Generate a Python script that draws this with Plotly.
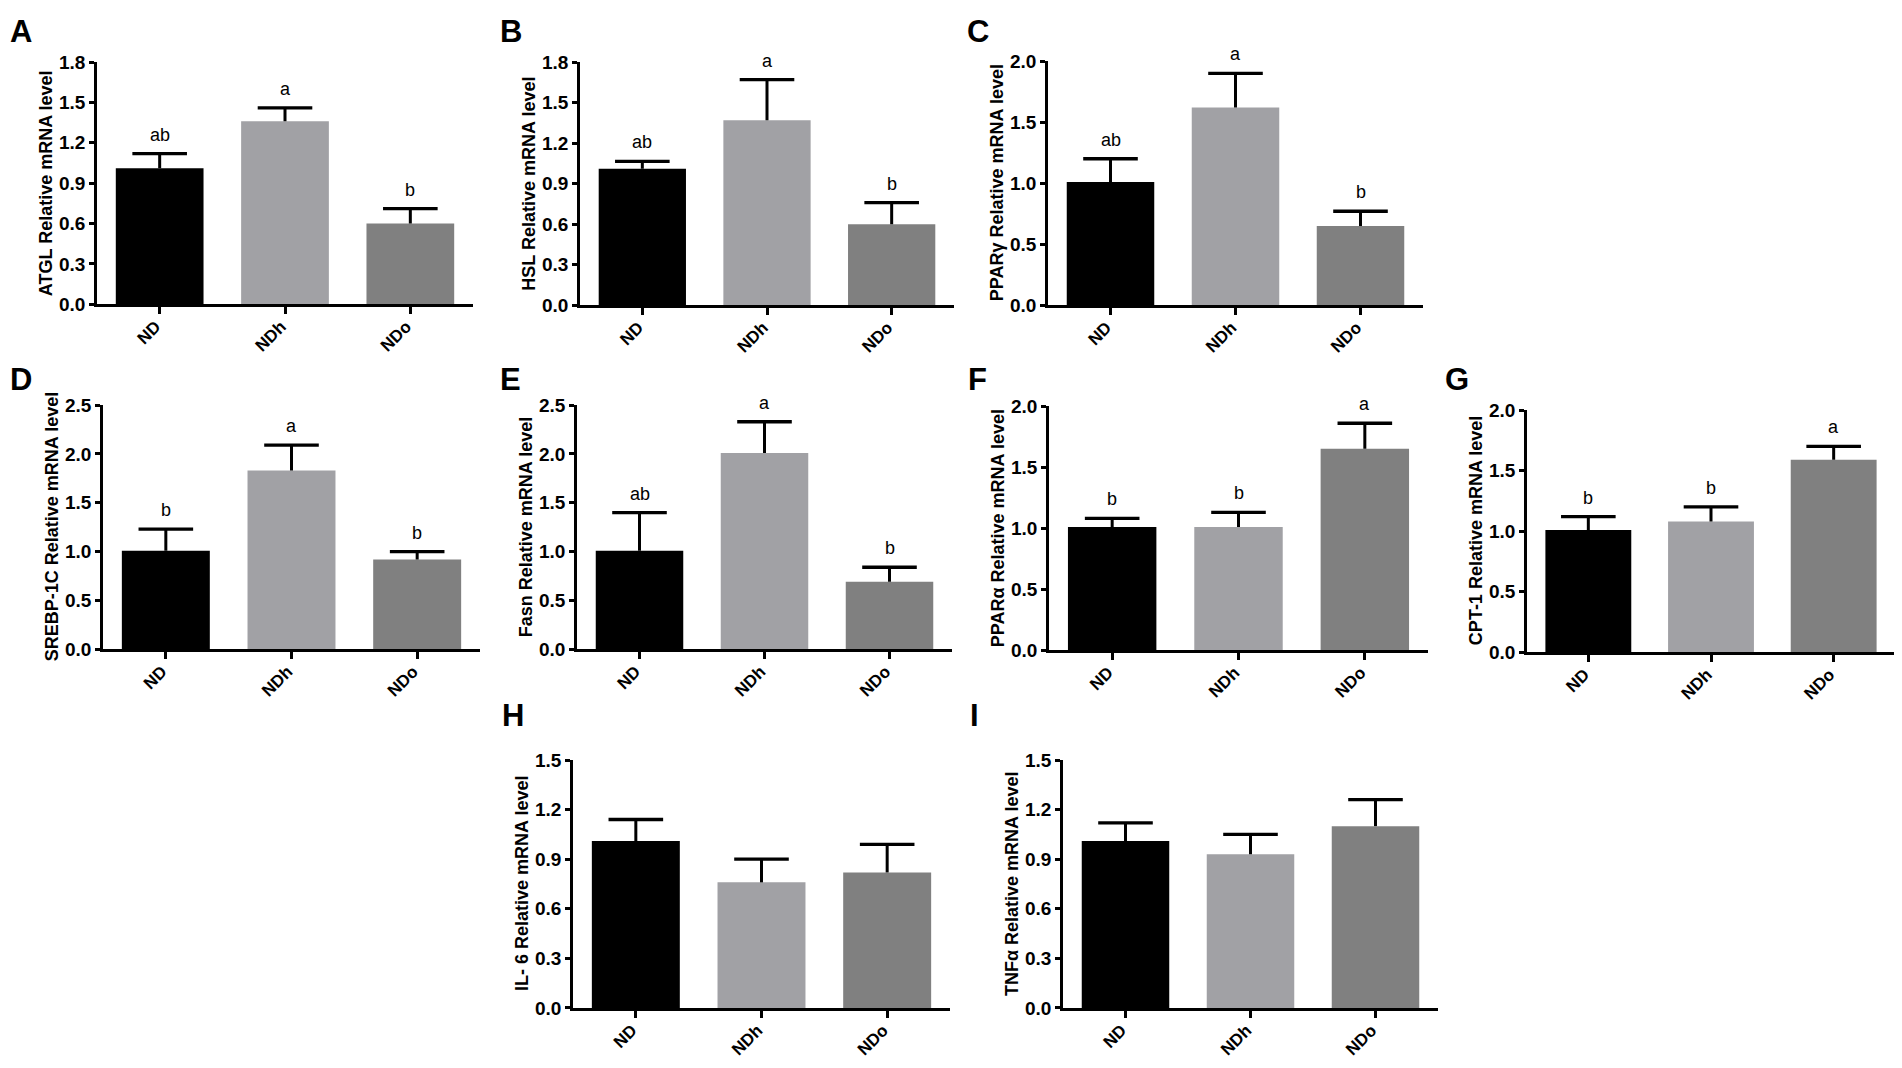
import plotly.graph_objects as go

# the page body has an 8px margin, so the figure is drawn 8px in from the window corner
W, H = 1894, 1060
OFF = 8

groups = ["ND", "NDh", "NDo"]
bar_colors = ["#000000", "#a1a1a5", "#808080"]

atgl_mean = [1.01, 1.36, 0.60]
atgl_sem = [0.11, 0.10, 0.11]
atgl_sig = ["ab", "a", "b"]

hsl_mean = [1.01, 1.37, 0.60]
hsl_sem = [0.055, 0.30, 0.16]
hsl_sig = ["ab", "a", "b"]

pparg_mean = [1.01, 1.62, 0.65]
pparg_sem = [0.19, 0.28, 0.12]
pparg_sig = ["ab", "a", "b"]

srebp_mean = [1.01, 1.83, 0.92]
srebp_sem = [0.22, 0.26, 0.08]
srebp_sig = ["b", "a", "b"]

fasn_mean = [1.01, 2.01, 0.69]
fasn_sem = [0.39, 0.32, 0.15]
fasn_sig = ["ab", "a", "b"]

ppara_mean = [1.01, 1.01, 1.65]
ppara_sem = [0.07, 0.12, 0.21]
ppara_sig = ["b", "b", "a"]

cpt1_mean = [1.01, 1.08, 1.59]
cpt1_sem = [0.11, 0.12, 0.11]
cpt1_sig = ["b", "b", "a"]

il6_mean = [1.01, 0.76, 0.82]
il6_sem = [0.13, 0.14, 0.17]

tnfa_mean = [1.01, 0.93, 1.10]
tnfa_sem = [0.11, 0.12, 0.16]

# panel letter, y title, data, y max, tick step, and window-pixel box (left, right, top, bottom)
panels = [
    ("A", "ATGL Relative mRNA level", atgl_mean, atgl_sem, atgl_sig, 1.8, 0.3, (97, 473, 53, 300)),
    ("B", "HSL Relative mRNA level", hsl_mean, hsl_sem, hsl_sig, 1.8, 0.3, (580, 954, 53, 301)),
    ("C", "PPARγ Relative mRNA level", pparg_mean, pparg_sem, pparg_sig, 2.0, 0.5, (1048, 1423, 52, 301)),
    ("D", "SREBP-1C Relative mRNA level", srebp_mean, srebp_sem, srebp_sig, 2.5, 0.5, (103, 480, 403, 652)),
    ("E", "Fasn Relative mRNA level", fasn_mean, fasn_sem, fasn_sig, 2.5, 0.5, (577, 952, 403, 652)),
    ("F", "PPARα Relative mRNA level", ppara_mean, ppara_sem, ppara_sig, 2.0, 0.5, (1049, 1428, 404, 653)),
    ("G", "CPT-1 Relative mRNA level", cpt1_mean, cpt1_sem, cpt1_sig, 2.0, 0.5, (1527, 1895, 408, 655)),
    ("H", "IL- 6 Relative mRNA level", il6_mean, il6_sem, None, 1.5, 0.3, (573, 950, 765, 1018)),
    ("I", "TNFα Relative mRNA level", tnfa_mean, tnfa_sem, None, 1.5, 0.3, (1063, 1438, 765, 1018)),
]

# where the big panel letters sit (window pixels, left edge / vertical centre)
letter_pos = {"A": (8, 22), "B": (498, 22), "C": (965, 22),
              "D": (8, 377), "E": (498, 377), "F": (966, 377), "G": (1443, 377),
              "H": (500, 720), "I": (968, 720)}

FONT = "Liberation Sans, Arial, sans-serif"


def fx(px):
    return (px - OFF) / W


def fy(py):
    return 1 - (py - OFF) / H


fig = go.Figure()
annotations = []

for i, (letter, ytitle, mean, sem, sig, ymax, step, box) in enumerate(panels):
    n = "" if i == 0 else str(i + 1)
    xa, ya = "x" + n, "y" + n
    left, right, top, bottom = box

    fig.add_trace(go.Bar(x=groups, y=mean, marker=dict(color=bar_colors, line=dict(width=0)),
                         width=0.7, xaxis=xa, yaxis=ya, showlegend=False))
    # upward-only error bars: stem then cap
    fig.add_trace(go.Scatter(x=groups, y=mean, mode="markers", marker=dict(size=0.1, color="black"),
                             error_y=dict(type="data", symmetric=False, array=sem,
                                          arrayminus=[0] * len(sem), width=0,
                                          thickness=3, color="black"),
                             xaxis=xa, yaxis=ya, showlegend=False, hoverinfo="skip"))
    tops = [m + s for m, s in zip(mean, sem)]
    fig.add_trace(go.Scatter(x=groups, y=tops, mode="markers",
                             marker=dict(symbol="line-ew", size=39,
                                         line=dict(width=3.3, color="black")),
                             xaxis=xa, yaxis=ya, showlegend=False, hoverinfo="skip"))

    fig.update_layout(**{
        "xaxis" + n: dict(domain=[fx(left), fx(right)], anchor=ya, range=[-0.5, 2.5],
                          showline=True, linecolor="black", linewidth=2.5,
                          ticks="outside", ticklen=7, tickwidth=2.5, tickcolor="black",
                          tickangle=-45, showgrid=False, zeroline=False,
                          ticklabelstandoff=-4, ticklabelshift=-4,
                          tickfont=dict(family=FONT, size=17, color="black", weight="bold")),
        "yaxis" + n: dict(domain=[fy(bottom), fy(top)], anchor=xa, range=[0, ymax],
                          dtick=step, tick0=0, tickformat=".1f",
                          showline=True, linecolor="black", linewidth=2.5,
                          ticks="outside", ticklen=5, tickwidth=2.5, tickcolor="black",
                          showgrid=False, zeroline=False,
                          tickfont=dict(family=FONT, size=19, color="black", weight="bold")),
    })

    annotations.append(dict(xref=xa + " domain", yref=ya + " domain", x=0, y=0.5,
                            xanchor="center", yanchor="middle",
                            xshift=-51, text=ytitle, textangle=-90, showarrow=False,
                            font=dict(family=FONT, size=18, color="black", weight="bold")))

    if sig:
        for g, t, s in zip(groups, tops, sig):
            annotations.append(dict(xref=xa, yref=ya, x=g, y=t, text=s, showarrow=False,
                                    yanchor="bottom", yshift=7,
                                    font=dict(family=FONT, size=18, color="black")))

    lx, ly = letter_pos[letter]
    annotations.append(dict(xref="paper", yref="paper", x=fx(lx), y=fy(ly), text=letter,
                            xanchor="left", yanchor="middle", showarrow=False,
                            font=dict(family=FONT, size=31, color="black", weight="bold")))

fig.update_layout(width=W, height=H, margin=dict(l=0, r=0, t=0, b=0),
                  paper_bgcolor="white", plot_bgcolor="white",
                  annotations=annotations, bargap=0.3)

fig.write_html("out.html")
